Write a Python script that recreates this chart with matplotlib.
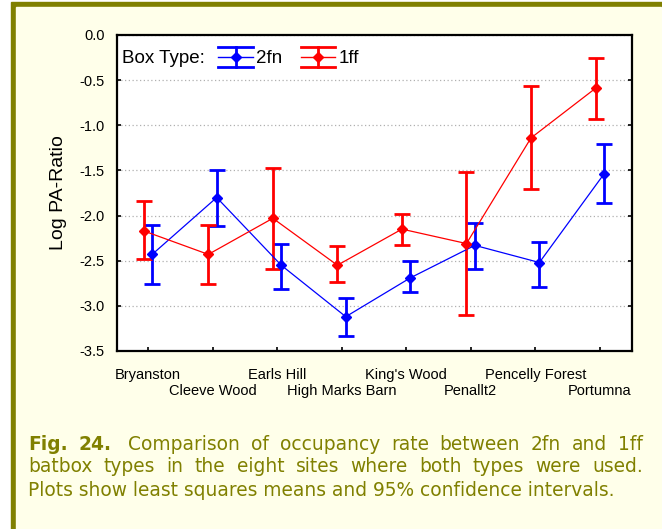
import matplotlib
matplotlib.use("Agg")
import matplotlib.pyplot as plt
from matplotlib.patches import Rectangle
from matplotlib.lines import Line2D
from matplotlib.legend_handler import HandlerBase
import numpy as np

# data
sites = ["Bryanston", "Cleeve Wood", "Earls Hill", "High Marks Barn",
         "King's Wood", "Penallt2", "Pencelly Forest", "Portumna"]

mean_2fn = [-2.43, -1.80, -2.55, -3.12, -2.69, -2.33, -2.52, -1.54]
hi_2fn = [-2.10, -1.49, -2.31, -2.91, -2.50, -2.08, -2.29, -1.21]
lo_2fn = [-2.76, -2.12, -2.81, -3.33, -2.85, -2.59, -2.79, -1.86]

mean_1ff = [-2.17, -2.43, -2.03, -2.55, -2.15, -2.31, -1.14, -0.59]
hi_1ff = [-1.84, -2.10, -1.47, -2.34, -1.98, -1.52, -0.57, -0.26]
lo_1ff = [-2.48, -2.76, -2.59, -2.74, -2.33, -3.10, -1.71, -0.93]

yticks = [0.0, -0.5, -1.0, -1.5, -2.0, -2.5, -3.0, -3.5]

caption_lines = [
    [("Fig.", True), ("24.", True), ("Comparison", False), ("of", False),
     ("occupancy", False), ("rate", False), ("between", False), ("2fn", False),
     ("and", False), ("1ff", False)],
    [("batbox", False), ("types", False), ("in", False), ("the", False),
     ("eight", False), ("sites", False), ("where", False), ("both", False),
     ("types", False), ("were", False), ("used.", False)],
]
caption_last = "Plots show least squares means and 95% confidence intervals."

W, H = 662, 529
olive = "#808000"
ivory = "#FFFFEA"
plt.rcParams['font.family'] = ['Liberation Sans Narrow', 'Liberation Sans', 'DejaVu Sans']


class ErrHandle(HandlerBase):
    # legend key in the style of the original: wide caps and a diamond
    def create_artists(self, legend, orig, xd, yd, width, height, fontsize, trans):
        c = orig.get_color()
        y0 = yd + height / 2
        h = height * 0.75
        arts = [
            Line2D([xd, xd + width], [y0, y0], color=c, lw=1),
            Line2D([xd, xd + width], [y0 + h, y0 + h], color=c, lw=2),
            Line2D([xd, xd + width], [y0 - h, y0 - h], color=c, lw=2),
            Line2D([xd + width / 2] * 2, [y0 - h, y0 + h], color=c, lw=2),
            Line2D([xd + width / 2], [y0], color=c, marker="D", ms=5, lw=0),
        ]
        for a in arts:
            a.set_transform(trans)
        return arts


fig = plt.figure(figsize=(W / 100, H / 100), dpi=100)
fig.patch.set_facecolor("white")

def px(x, y):
    # pixel coords (top-left origin) -> figure fraction
    return x / W, 1 - y / H

# page border and background
fig.patches.append(Rectangle(px(11, H), (W - 11) / W, (H - 2) / H,
                             transform=fig.transFigure, color=olive, zorder=-10))
fig.patches.append(Rectangle(px(16, H), (W - 17) / W, (H - 7) / H,
                             transform=fig.transFigure, color=ivory, zorder=-9))

left, top = px(117, 35)
right, bottom = px(632, 351)
ax = fig.add_axes([left, bottom, right - left, top - bottom])
ax.set_facecolor("white")

x = np.arange(len(sites))
off = 0.065

m1 = np.array(mean_1ff)
e1 = [m1 - np.array(lo_1ff), np.array(hi_1ff) - m1]
m2 = np.array(mean_2fn)
e2 = [m2 - np.array(lo_2fn), np.array(hi_2fn) - m2]

ax.errorbar(x + off, m2, yerr=e2, color="blue", lw=0.9, elinewidth=2,
            capsize=5.5, capthick=2, marker="D", ms=5, zorder=3)
ax.errorbar(x - off, m1, yerr=e1, color="red", lw=0.9, elinewidth=2,
            capsize=5.5, capthick=2, marker="D", ms=5, zorder=3)

ax.set_xlim(-0.48, 7.5)
ax.set_ylim(-3.5, 0.0)
ax.set_yticks(yticks)
ax.set_yticklabels(["%.1f" % v for v in yticks])
ax.yaxis.grid(True, linestyle=(0, (1, 2)), color="#b0b0b0", lw=0.9)
# alternate site labels on two rows
ax.set_xticks(x[::2], sites[::2])
ax.set_xticks(x[1::2], sites[1::2], minor=True)
ax.tick_params(axis="both", which="both", direction="in", length=3, width=1.2,
               labelsize=10.5)
ax.tick_params(axis="y", right=True, pad=9)
ax.tick_params(axis="x", which="major", pad=12)
ax.tick_params(axis="x", which="minor", pad=23.5)
for sp in ax.spines.values():
    sp.set_linewidth(1.6)
ax.set_ylabel("Log PA-Ratio", fontsize=14, labelpad=9)

ax.text(0.01, 0.925, "Box Type:", transform=ax.transAxes, fontsize=13.5,
        va="center", ha="left")
key2 = Line2D([], [], color="blue")
key1 = Line2D([], [], color="red")
ax.legend([key2, key1], ["2fn", "1ff"], ncol=2, frameon=False, fontsize=13.5,
          loc="center left", bbox_to_anchor=(0.182, 0.925), handlelength=1.85,
          handletextpad=0.15, columnspacing=1.0, borderaxespad=0,
          handler_map={Line2D: ErrHandle()})

# caption, justified by hand
cap_font = dict(family="DejaVu Sans", fontsize=13.4, color=olive)
x0, x1 = 28, 643
line_y = [444, 467, 490]
renderer = fig.canvas.get_renderer()
for words, yy in zip(caption_lines, line_y):
    texts = []
    for w, b in words:
        t = fig.text(0, 0, w, fontweight="bold" if b else "normal",
                     va="center", ha="left", **cap_font)
        texts.append(t)
    widths = [t.get_window_extent(renderer).width for t in texts]
    extra = 6 if words[0][0] == "Fig." else 0
    gap = (x1 - x0 - sum(widths) - extra) / (len(texts) - 1)
    xx = x0
    for i, (t, w) in enumerate(zip(texts, widths)):
        t.set_position(px(xx, yy))
        xx += w + gap
        if i == 1 and extra:
            xx += extra
fig.text(*px(x0, line_y[2]), caption_last, va="center", ha="left", **cap_font)

fig.savefig("out.png", dpi=100, facecolor=fig.get_facecolor())
